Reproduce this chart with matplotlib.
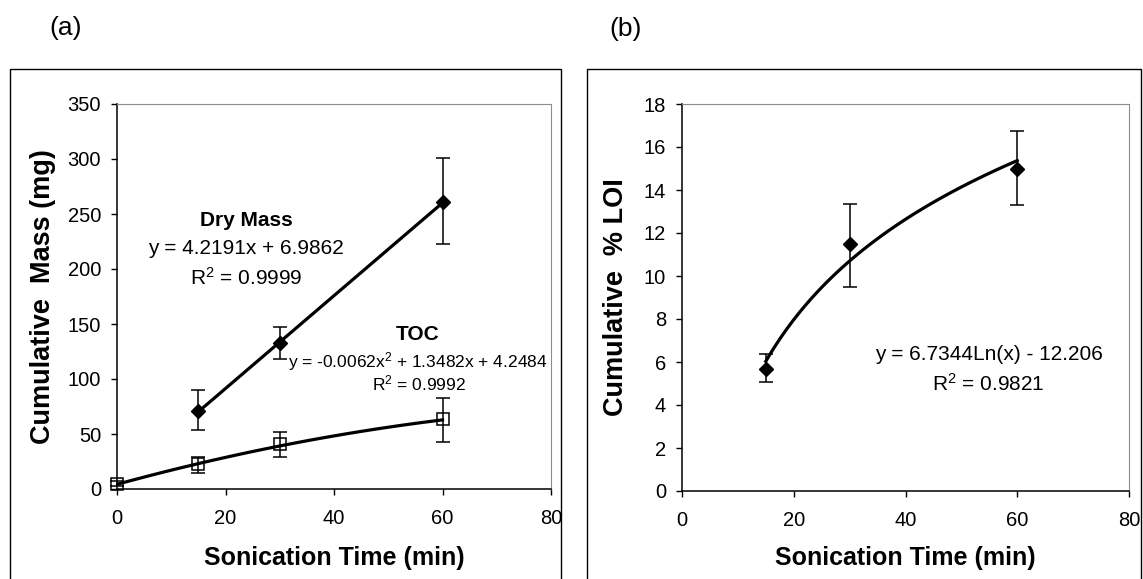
import matplotlib
matplotlib.use('agg')
import matplotlib.pyplot as plt
import numpy as np
from matplotlib.patches import Rectangle

plt.rcParams['font.family'] = ['Liberation Sans', 'DejaVu Sans']
plt.rcParams['mathtext.fontset'] = 'custom'
plt.rcParams['mathtext.rm'] = 'Liberation Sans'
plt.rcParams['mathtext.it'] = 'Liberation Sans:italic'
plt.rcParams['mathtext.bf'] = 'Liberation Sans:bold'

# panel (a) data
dm_x = [15, 30, 60]
dm_y = [71, 133, 261]
dm_lo = [53.5, 118, 222.5]
dm_hi = [90, 147.5, 300.5]
toc_x = [0, 15, 30, 60]
toc_y = [5, 22.7, 40.6, 63.6]
toc_lo = [2.5, 14.8, 28.8, 43]
toc_hi = [7.5, 28.8, 52, 82.4]
dm_fit = [4.2191, 6.9862]
toc_fit = [-0.0062, 1.3482, 4.2484]

# panel (b) data
loi_x = [15, 30, 60]
loi_y = [5.66, 11.47, 15.0]
loi_lo = [5.08, 9.5, 13.29]
loi_hi = [6.36, 13.35, 16.74]
loi_fit = [6.7344, -12.206]

W, H = 1143, 579
fig = plt.figure(figsize=(W / 100, H / 100), dpi=100)

def px(x0, y0, x1, y1):
    return [x0 / W, 1 - y1 / H, (x1 - x0) / W, (y1 - y0) / H]

# panel borders
fig.patches.append(Rectangle((9.5 / W, -0.05), (560.5 - 9.5) / W, 1 - 69 / H + 0.05,
                             transform=fig.transFigure, fill=False, ec='black', lw=1))
fig.patches.append(Rectangle((586.5 / W, -0.05), (1140.5 - 586.5) / W, 1 - 69 / H + 0.05,
                             transform=fig.transFigure, fill=False, ec='black', lw=1))

fig.text(66 / W, 1 - 28 / H, '(a)', fontsize=19, ha='center', va='center')
fig.text(626 / W, 1 - 29 / H, '(b)', fontsize=19, ha='center', va='center')

def style(ax, xlab_y, ylab_x):
    for s in ['top', 'right']:
        ax.spines[s].set_color('#8c8c8c')
    for s in ['left', 'bottom']:
        ax.spines[s].set_linewidth(1.1)
    ax.tick_params(direction='out', length=4.5, width=1, labelsize=14.5, top=False, right=False)
    ax.tick_params(axis='x', pad=10)
    ax.tick_params(axis='y', pad=7)
    ax.set_xlim(0, 80)
    ax.set_xticks([0, 20, 40, 60, 80])
    ax.set_xlabel('Sonication Time (min)', fontsize=18, fontweight='bold', va='center')
    ax.xaxis.set_label_coords(0.5, xlab_y)
    ax.yaxis.set_label_coords(ylab_x, 0.5)
    ax.yaxis.label.set_va('center')

def errs(y, lo, hi):
    return [np.subtract(y, lo), np.subtract(hi, y)]

ax1 = fig.add_axes(px(117, 104, 551, 489))
ax1.set_ylim(0, 350)
ax1.set_yticks(range(0, 351, 50))
ax1.set_ylabel('Cumulative  Mass (mg)', fontsize=19.5, fontweight='bold')
style(ax1, -0.179, -0.17)

xx = np.linspace(15, 60, 50)
ax1.plot(xx, np.polyval(dm_fit, xx), color='black', lw=2.3, zorder=2)
xx2 = np.linspace(0, 60, 100)
ax1.plot(xx2, np.polyval(toc_fit, xx2), color='black', lw=2.3, zorder=2)
ax1.errorbar(dm_x, dm_y, yerr=errs(dm_y, dm_lo, dm_hi), fmt='D', color='black', ms=7,
             capsize=5, elinewidth=1.1, capthick=1.1, zorder=3, clip_on=False)
ax1.errorbar(toc_x, toc_y, yerr=errs(toc_y, toc_lo, toc_hi), fmt='s', mfc='none', mec='black',
             ecolor='black', ms=8, mew=1.1, capsize=5, elinewidth=1.1, capthick=1.1,
             zorder=3, clip_on=False)

ax1.text(23.8, 244.5, 'Dry Mass', fontsize=15, fontweight='bold', ha='center', va='center')
ax1.text(23.7, 218.8, 'y = 4.2191x + 6.9862', fontsize=15, ha='center', va='center')
ax1.text(23.8, 192, 'R$^2$ = 0.9999', fontsize=15, ha='center', va='center')
ax1.text(55.5, 140, 'TOC', fontsize=15, fontweight='bold', ha='center', va='center')
ax1.text(55.5, 115.7, 'y = -0.0062x$^2$ + 1.3482x + 4.2484', fontsize=12.5, ha='center', va='center')
ax1.text(55.6, 96, 'R$^2$ = 0.9992', fontsize=12.5, ha='center', va='center')

ax2 = fig.add_axes(px(682, 104, 1129, 491))
ax2.set_ylim(0, 18)
ax2.set_yticks(range(0, 19, 2))
ax2.set_ylabel('Cumulative  % LOI', fontsize=19.5, fontweight='bold')
style(ax2, -0.173, -0.1486)

xx3 = np.linspace(15, 60, 100)
ax2.plot(xx3, loi_fit[0] * np.log(xx3) + loi_fit[1], color='black', lw=2.3, zorder=2)
ax2.errorbar(loi_x, loi_y, yerr=errs(loi_y, loi_lo, loi_hi), fmt='D', color='black', ms=7,
             capsize=5, elinewidth=1.1, capthick=1.1, zorder=3)
ax2.text(54.9, 6.33, 'y = 6.7344Ln(x) - 12.206', fontsize=15, ha='center', va='center')
ax2.text(54.9, 5.0, 'R$^2$ = 0.9821', fontsize=15, ha='center', va='center')

fig.savefig('out.png', dpi=100)
